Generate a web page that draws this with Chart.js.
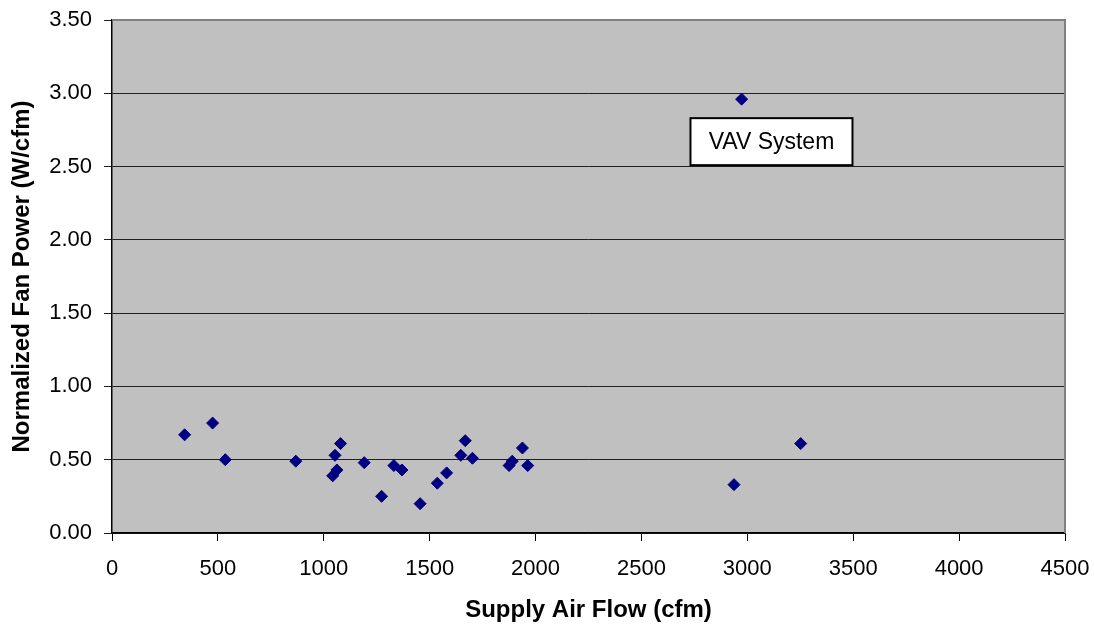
<!DOCTYPE html>
<html lang="en">
<head>
  <meta charset="UTF-8">
  <title>Normalized Fan Power</title>
  <script src="https://cdn.jsdelivr.net/npm/chart.js"></script>
  <style>
    body {
      margin: 0;
      background-color: #ffffff;
      font-family: 'Liberation Sans', Arial, sans-serif;
    }

    .chart-box {
      width: 1094px;
      height: 626px;
    }
  </style>
</head>
<body>

<div class="chart-box">
  <canvas id="fanChart"></canvas>
</div>

<script>
  // supply air flow (cfm) and normalized fan power (W/cfm), one entry per unit
  const airFlow = [343, 475, 535, 868, 1053, 1079, 1062, 1042, 1191, 1273, 1331, 1369, 1455,
                   1536, 1580, 1647, 1668, 1702, 1875, 1890, 1938, 1963, 2937, 3252, 2973];
  const fanPower = [0.67, 0.75, 0.50, 0.49, 0.53, 0.61, 0.43, 0.39, 0.48, 0.25, 0.46, 0.43, 0.20,
                    0.34, 0.41, 0.53, 0.63, 0.51, 0.46, 0.49, 0.58, 0.46, 0.33, 0.61, 2.96];

  const xTicks = [0, 500, 1000, 1500, 2000, 2500, 3000, 3500, 4000, 4500];
  const yTicks = [0, 0.5, 1, 1.5, 2, 2.5, 3, 3.5];

  // text box next to the outlier, centre given in data units
  const noteText = 'VAV System';
  const noteAt = [3114, 2.67];

  const points = airFlow.map((x, i) => ({ x: x, y: fanPower[i] }));

  // grey plot area, grey frame on top/right, and the note box
  const plotExtras = {
    id: 'plotExtras',
    beforeDraw(chart) {
      const { ctx, chartArea: a } = chart;
      ctx.save();
      ctx.fillStyle = '#c0c0c0';
      ctx.fillRect(a.left, a.top, a.right - a.left, a.bottom - a.top);
      ctx.restore();
    },
    afterDraw(chart) {
      const { ctx, chartArea: a, scales } = chart;
      ctx.save();
      ctx.strokeStyle = '#808080';
      ctx.lineWidth = 2;
      ctx.beginPath();
      ctx.moveTo(a.left, a.top);
      ctx.lineTo(a.right, a.top);
      ctx.lineTo(a.right, a.bottom);
      ctx.stroke();

      const cx = scales.x.getPixelForValue(noteAt[0]);
      const cy = scales.y.getPixelForValue(noteAt[1]);
      const w = 162, h = 47;
      ctx.fillStyle = '#ffffff';
      ctx.fillRect(cx - w / 2, cy - h / 2, w, h);
      ctx.strokeStyle = '#000000';
      ctx.lineWidth = 2;
      ctx.strokeRect(cx - w / 2, cy - h / 2, w, h);
      ctx.fillStyle = '#000000';
      ctx.font = "23px 'Liberation Sans', Arial, sans-serif";
      ctx.textAlign = 'center';
      ctx.textBaseline = 'middle';
      ctx.fillText(noteText, cx, cy + 1);
      ctx.restore();
    }
  };

  const ctxFan = document.getElementById('fanChart').getContext('2d');
  new Chart(ctxFan, {
    type: 'scatter',
    data: {
      datasets: [{
        label: 'Fan power',
        data: points,
        pointStyle: 'rectRot',
        pointRadius: 6,
        pointHoverRadius: 6,
        backgroundColor: '#000080',
        borderColor: '#000080',
        borderWidth: 1
      }]
    },
    plugins: [plotExtras],
    options: {
      responsive: true,
      maintainAspectRatio: false,
      animation: false,
      layout: {
        padding: { top: 20, right: 29, left: 0, bottom: 0 }
      },
      plugins: {
        legend: { display: false },
        tooltip: { enabled: false }
      },
      scales: {
        x: {
          type: 'linear',
          min: 0,
          max: 4500,
          afterBuildTicks(scale) {
            scale.ticks = xTicks.map(v => ({ value: v }));
          },
          afterFit(scale) {
            scale.height = 93;
            scale.paddingLeft = 0;
            scale.paddingRight = 0;
          },
          grid: {
            drawOnChartArea: false,
            drawTicks: true,
            tickLength: 8,
            color: '#000000'
          },
          border: { color: '#000000', width: 1.5 },
          ticks: {
            color: '#000000',
            padding: 15,
            maxRotation: 0,
            callback: v => String(v),
            font: { family: "'Liberation Sans', Arial, sans-serif", size: 22 }
          },
          title: {
            display: true,
            text: 'Supply Air Flow (cfm)',
            color: '#000000',
            padding: { top: 0, bottom: 1 },
            font: { family: "'Liberation Sans', Arial, sans-serif", size: 24, weight: 'bold' }
          }
        },
        y: {
          type: 'linear',
          min: 0,
          max: 3.5,
          afterBuildTicks(scale) {
            scale.ticks = yTicks.map(v => ({ value: v }));
          },
          afterFit(scale) {
            scale.width = 112;
            scale.paddingTop = 0;
            scale.paddingBottom = 0;
          },
          grid: {
            drawTicks: true,
            tickLength: 8,
            color: '#202020',
            lineWidth: 1
          },
          border: { color: '#000000', width: 1.5 },
          ticks: {
            color: '#000000',
            padding: 12,
            callback: v => v.toFixed(2),
            font: { family: "'Liberation Sans', Arial, sans-serif", size: 22 }
          },
          title: {
            display: true,
            text: 'Normalized Fan Power (W/cfm)',
            color: '#000000',
            padding: { top: 8, bottom: 0 },
            font: { family: "'Liberation Sans', Arial, sans-serif", size: 24, weight: 'bold' }
          }
        }
      }
    }
  });
</script>

</body>
</html>
